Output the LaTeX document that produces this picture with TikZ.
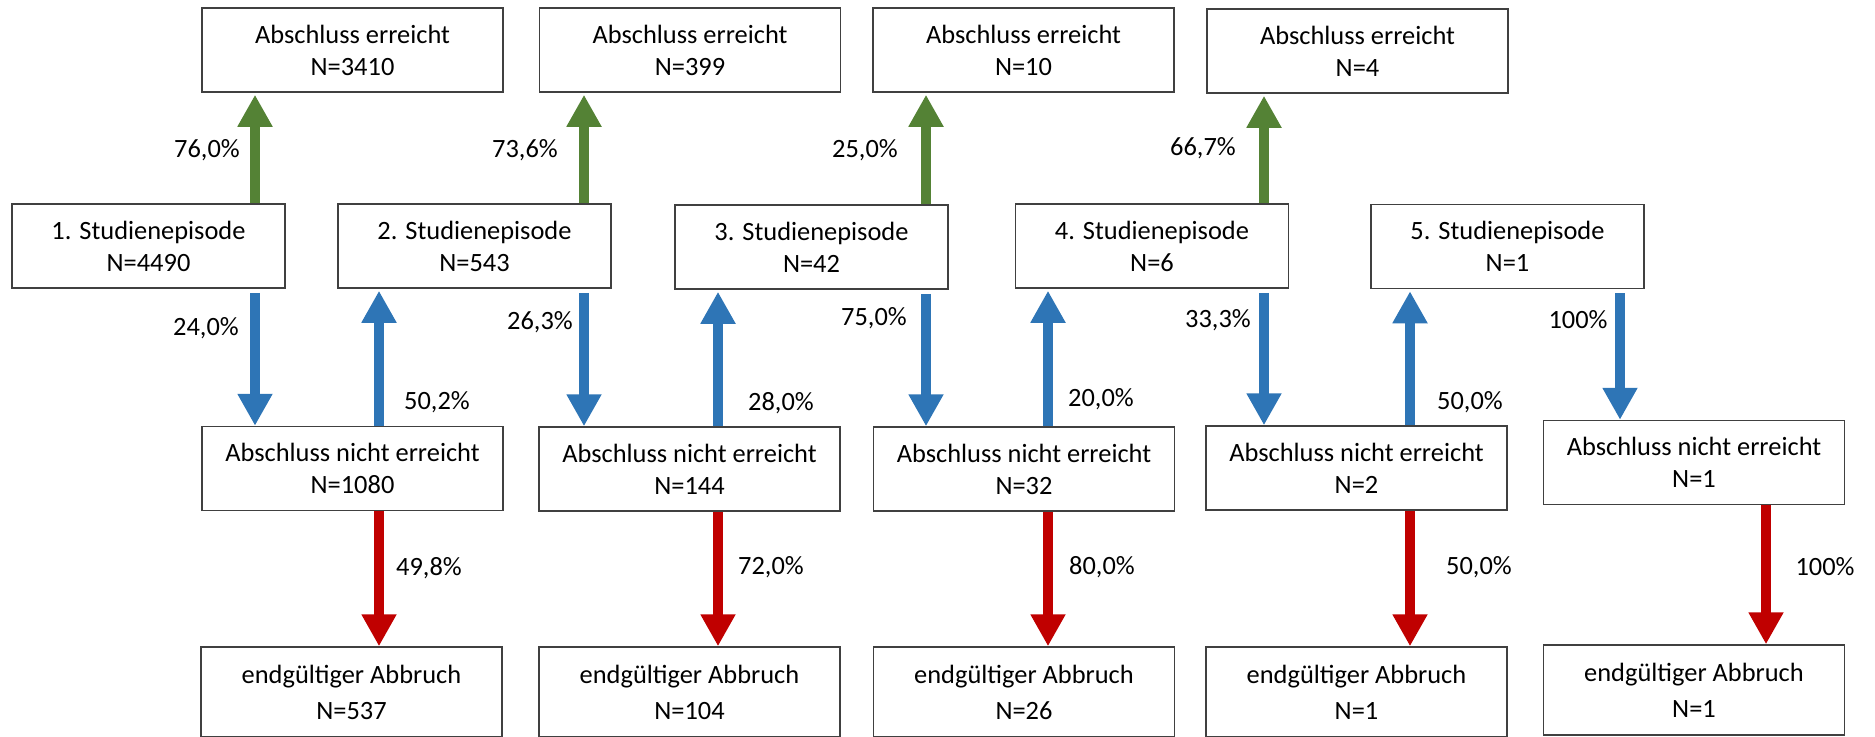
\documentclass[tikz,border=0pt]{standalone}
\usepackage{fontspec}
\setmainfont{Carlito}
\usetikzlibrary{arrows.meta}
\definecolor{boxgray}{HTML}{404040}
\definecolor{okgreen}{HTML}{548235}
\definecolor{flowblue}{HTML}{2E75B6}
\definecolor{stopred}{HTML}{C00000}
\tikzset{
  box/.style={draw=boxgray,line width=0.75pt,inner sep=0pt,align=center,
    minimum height=42pt,font=\fontsize{13.2}{16}\selectfont},
  wide/.style={box,minimum width=150.5pt},
  narrow/.style={box,minimum width=136.5pt},
  endbox/.style={wide,minimum height=45pt,font=\fontsize{13.2}{18}\selectfont},
  flow/.style={line width=5pt,-{Triangle[length=16pt,width=16.5pt]}},
  pct/.style={inner sep=0pt,font=\fontsize{13.2}{16}\selectfont},
}

\begin{document}
\begin{tikzpicture}[x=0.5pt,y=-0.5pt]
\useasboundingbox (0,0) rectangle (1875,736);
% columns of the arrows
\coordinate (g1) at (255,0);  \coordinate (r1) at (379,0);
\coordinate (g2) at (584,0);  \coordinate (r2) at (718,0);
\coordinate (g3) at (926,0);  \coordinate (r3) at (1048,0);
\coordinate (g4) at (1264,0); \coordinate (r4) at (1410,0);
\coordinate (g5) at (1620,0); \coordinate (r5) at (1766,0);

% Abschluss erreicht
\node[wide] (t1) at (352.5,50) {Abschluss erreicht\\N=3410};
\node[wide] (t2) at (690,50) {Abschluss erreicht\\N=399};
\node[wide] (t3) at (1023.5,50) {Abschluss erreicht\\N=10};
\node[wide] (t4) at (1357.5,51) {Abschluss erreicht\\N=4};

% Studienepisoden
\node[narrow] (se1) at (148.5,246) {1. Studienepisode\\N=4490};
\node[narrow] (se2) at (474.5,246) {2. Studienepisode\\N=543};
\node[narrow] (se3) at (811.5,247) {3. Studienepisode\\N=42};
\node[narrow] (se4) at (1152,246) {4. Studienepisode\\N=6};
\node[narrow] (se5) at (1507.5,246.5) {5. Studienepisode\\N=1};

% Abschluss nicht erreicht
\node[wide] (ne1) at (352.5,468.5) {Abschluss nicht erreicht\\N=1080};
\node[wide] (ne2) at (689.5,469) {Abschluss nicht erreicht\\N=144};
\node[wide] (ne3) at (1024,469) {Abschluss nicht erreicht\\N=32};
\node[wide] (ne4) at (1356.5,468) {Abschluss nicht erreicht\\N=2};
\node[wide] (ne5) at (1694,462.5) {Abschluss nicht erreicht\\N=1};

% endgueltiger Abbruch
\node[endbox] (ea1) at (351.5,692) {endgültiger Abbruch\\N=537};
\node[endbox] (ea2) at (689.5,692) {endgültiger Abbruch\\N=104};
\node[endbox] (ea3) at (1024,692) {endgültiger Abbruch\\N=26};
\node[endbox] (ea4) at (1356.5,692) {endgültiger Abbruch\\N=1};
\node[endbox] (ea5) at (1694,690) {endgültiger Abbruch\\N=1};

% Abschluss
\draw[flow,okgreen,shorten >=1pt] (se1.north -| g1) -- (t1.south -| g1);
\draw[flow,okgreen,shorten >=1pt] (se2.north -| g2) -- (t2.south -| g2);
\draw[flow,okgreen,shorten >=1pt] (se3.north -| g3) -- (t3.south -| g3);
\draw[flow,okgreen,shorten >=1pt] (se4.north -| g4) -- (t4.south -| g4);

% kein Abschluss
\draw[flow,flowblue,shorten <=2pt] (se1.south -| g1) -- (ne1.north -| g1);
\draw[flow,flowblue,shorten <=2pt] (se2.south -| g2) -- (ne2.north -| g2);
\draw[flow,flowblue,shorten <=2pt] (se3.south -| g3) -- (ne3.north -| g3);
\draw[flow,flowblue,shorten <=2pt] (se4.south -| g4) -- (ne4.north -| g4);
\draw[flow,flowblue,shorten <=2pt] (se5.south -| g5) -- (ne5.north -| g5);

% neue Episode
\draw[flow,flowblue,shorten >=1pt] (ne1.north -| r1) -- (se2.south -| r1);
\draw[flow,flowblue,shorten >=1pt] (ne2.north -| r2) -- (se3.south -| r2);
\draw[flow,flowblue,shorten >=1pt] (ne3.north -| r3) -- (se4.south -| r3);
\draw[flow,flowblue,shorten >=1pt] (ne4.north -| r4) -- (se5.south -| r4);

% Abbruch
\draw[flow,stopred] (ne1.south -| r1) -- (ea1.north -| r1);
\draw[flow,stopred] (ne2.south -| r2) -- (ea2.north -| r2);
\draw[flow,stopred] (ne3.south -| r3) -- (ea3.north -| r3);
\draw[flow,stopred] (ne4.south -| r4) -- (ea4.north -| r4);
\draw[flow,stopred] (ne5.south -| r5) -- (ea5.north -| r5);

% Anteile
\node[pct] (a1) at (207,150) {76,0\%};
\node[pct] (a2) at (525,150) {73,6\%};
\node[pct] (a3) at (865,150) {25,0\%};
\node[pct] (a4) at (1203,148) {66,7\%};
\node[pct] (b1) at (206,328) {24,0\%};
\node[pct] (b2) at (540,322) {26,3\%};
\node[pct] (b3) at (874,318) {75,0\%};
\node[pct] (b4) at (1218,320) {33,3\%};
\node[pct] (b5) at (1578,320) {100\%};
\node[pct] (c1) at (437,402) {50,2\%};
\node[pct] (c2) at (781,403) {28,0\%};
\node[pct] (c3) at (1101,399) {20,0\%};
\node[pct] (c4) at (1470,402) {50,0\%};
\node[pct] (d1) at (429,568) {49,8\%};
\node[pct] (d2) at (771,567) {72,0\%};
\node[pct] (d3) at (1102,567) {80,0\%};
\node[pct] (d4) at (1479,567) {50,0\%};
\node[pct] (d5) at (1825,567) {100\%};
\end{tikzpicture}
\end{document}
